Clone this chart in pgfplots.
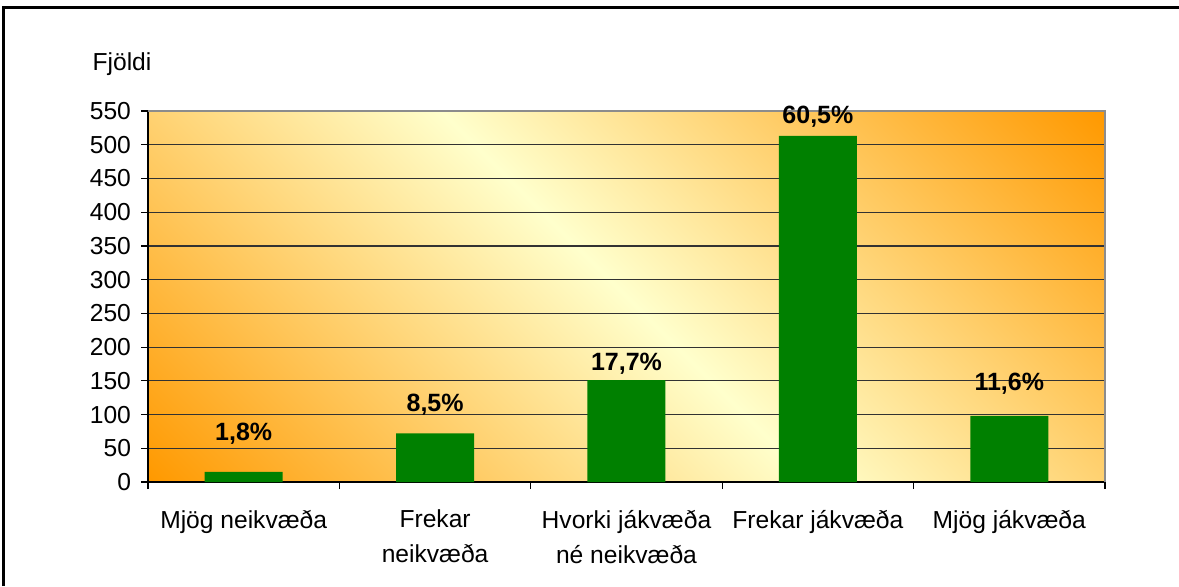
\documentclass[border=0pt]{standalone}
\usepackage{pgfplots}
\pgfplotsset{compat=1.18}
\usepackage{fontspec}
\setmainfont{Liberation Sans}
\definecolor{orng}{RGB}{255,153,0}
\definecolor{lyel}{RGB}{255,255,204}
\definecolor{bargreen}{RGB}{0,128,0}
\definecolor{gridc}{RGB}{50,50,50}
\definecolor{framec}{RGB}{140,140,140}
\pgfdeclareverticalshading{excelgrad}{100bp}{color(0bp)=(orng); color(14.64bp)=(orng); color(50bp)=(lyel); color(85.36bp)=(orng); color(100bp)=(orng)}
\begin{document}
\begin{tikzpicture}[x=1pt,y=1pt]
\path[use as bounding box] (0,0) rectangle (589.5,293);
\draw[line width=1.5pt] (1.5,0) -- (1.5,289.25) -- (589.5,289.25);
\node[anchor=base, font=\fontsize{12.3}{14}\selectfont] at (61,258) {Fjöldi};
\begin{axis}[
  at={(74pt,52pt)}, anchor=south west,
  scale only axis, width=478.5pt, height=185.5pt,
  xmin=-0.5, xmax=4.5, ymin=0, ymax=550,
  ytick={0,50,...,550},
  xtick={0,1,2,3,4},
  xticklabels={Mjög neikvæða, Frekar\\neikvæða, Hvorki jákvæða\\né neikvæða, Frekar jákvæða, Mjög jákvæða},
  minor xtick={-0.5,0.5,1.5,2.5,3.5,4.5},
  major x tick style={draw=none},
  tick align=outside,
  major tick length=3.5pt, minor tick length=3.5pt,
  axis x line*=bottom, axis y line*=left,
  axis line style={black, line width=0.6pt},
  tick style={black, line width=0.6pt},
  ymajorgrids, grid style={gridc, line width=0.6pt},
  /pgf/number format/assume math mode=true,
  yticklabel style={font=\fontsize{12.3}{14}\selectfont, xshift=-1.5pt},
  xticklabel style={font=\fontsize{12.3}{17.5}\selectfont, align=center, anchor=north, yshift=-7pt},
  axis background/.style={shade, shading=excelgrad, shading angle=-45},
  ybar, bar width=39pt,
  clip=false,
]
\addplot[fill=bargreen, draw=none] coordinates {(0,15) (1,72) (2,151) (3,513) (4,98)};
\draw[framec, line width=0.9pt] (rel axis cs:0,1) -- (rel axis cs:1,1) -- (rel axis cs:1,0);
\begin{scope}[every node/.style={anchor=base, font=\bfseries\fontsize{12.5}{14}\selectfont}]
\node at (axis cs:0,60.8) {1,8\%};
\node at (axis cs:1,103.8) {8,5\%};
\node at (axis cs:2,165) {17,7\%};
\node at (axis cs:3,530.8) {60,5\%};
\node at (axis cs:4,136.4) {11,6\%};
\end{scope}
\end{axis}
\end{tikzpicture}
\end{document}
